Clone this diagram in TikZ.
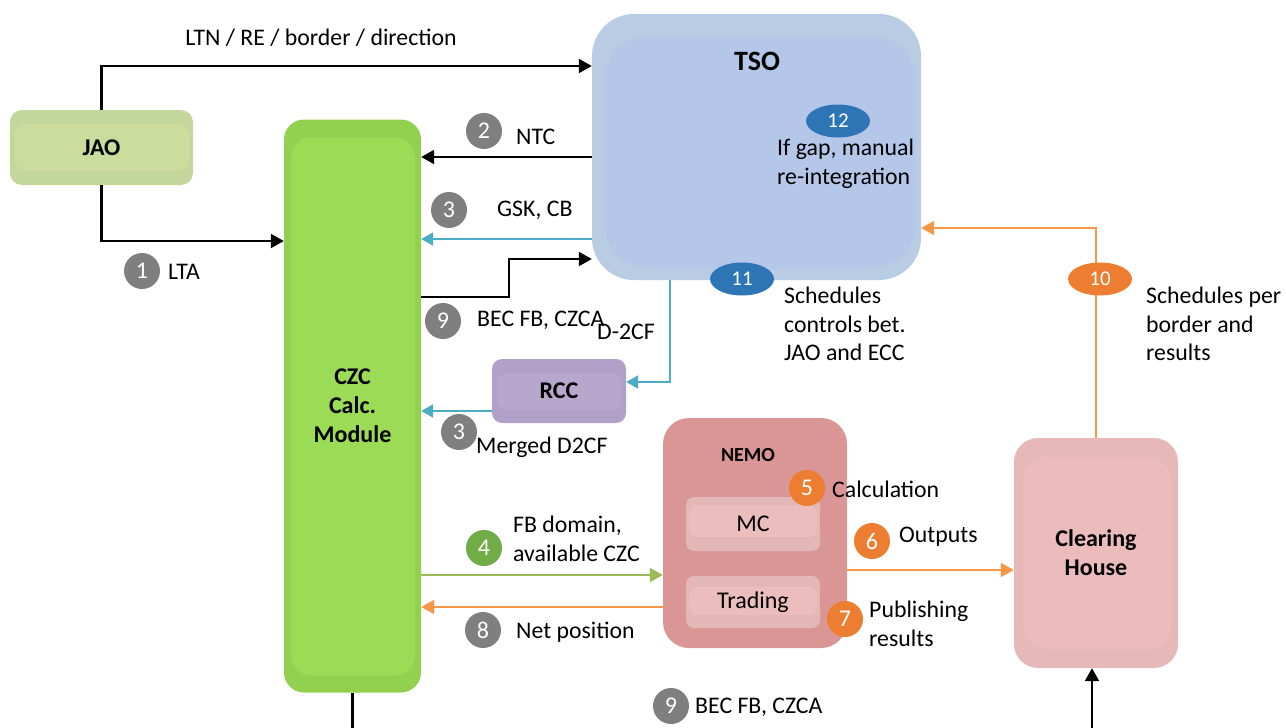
\documentclass[tikz,border=0pt]{standalone}
\usepackage{fontspec}
\setmainfont{Carlito}
\usetikzlibrary{arrows.meta,shapes.geometric,calc}
\definecolor{jaoO}{HTML}{C3D69B}
\definecolor{jaoI}{HTML}{CBDD9C}
\definecolor{czcO}{HTML}{92D050}
\definecolor{czcI}{HTML}{9BDB55}
\definecolor{tsoO}{HTML}{B8CCE4}
\definecolor{tsoI}{HTML}{B4C7E9}
\definecolor{rccO}{HTML}{B1A0C7}
\definecolor{rccI}{HTML}{B8A7CD}
\definecolor{nemoC}{HTML}{D99694}
\definecolor{subO}{HTML}{E4B7B7}
\definecolor{subI}{HTML}{EBBDBD}
\definecolor{chO}{HTML}{E6B8B7}
\definecolor{chI}{HTML}{ECBCBC}
\definecolor{cyanL}{HTML}{4BACC6}
\definecolor{greenL}{HTML}{9BBB59}
\definecolor{orangeL}{HTML}{F79646}
\definecolor{grayB}{HTML}{7F7F7F}
\definecolor{orangeB}{HTML}{ED7D31}
\definecolor{greenB}{HTML}{70AD47}
\definecolor{blueB}{HTML}{2E75B6}
\begin{document}
\begin{tikzpicture}[x=1pt,y=-1pt,
  font=\fontsize{23.8}{28.5}\selectfont,
  box/.style={draw=none, inner sep=0pt, align=center, font=\fontsize{24}{29}\selectfont\bfseries},
  inband/.style n args={5}{path picture={\fill[#1] ($(path picture bounding box.north west)+(#2,#3)$) rectangle ($(path picture bounding box.south east)+(-#4,-#5)$);}},
  badge/.style={circle, fill=#1, text=white, minimum size=36pt, inner sep=0pt, font=\fontsize{24}{26}\selectfont},
  ebadge/.style={ellipse, fill=#1, text=white, minimum width=64pt, minimum height=33pt, inner sep=0pt, font=\fontsize{21}{24}\selectfont},
  lbl/.style={anchor=west, inner sep=0pt, align=left},
  blk/.style={draw=black, line width=2.2pt, -{Triangle[length=13pt,width=14pt]}},
  cyn/.style={draw=cyanL, line width=2pt, -{Triangle[length=12pt,width=13pt]}},
  grn/.style={draw=greenL, line width=2pt, -{Triangle[length=13pt,width=14pt]}},
  org/.style={draw=orangeL, line width=2pt, -{Triangle[length=13pt,width=14pt]}},
  blkline/.style={draw=black, line width=2.2pt}
]
\useasboundingbox (0,0) rectangle (1286,728);

% boxes
\node[box, fill=jaoO, rounded corners=12pt, minimum width=183pt, minimum height=75pt,
      inband={jaoI}{4}{14}{3}{14}] (jao) at (101.5,147.5) {JAO};
\node[box, fill=czcO, rounded corners=20pt, minimum width=137pt, minimum height=573pt,
      inband={czcI}{7}{18}{6}{17}] (czc) at (352.5,406) {CZC\\Calc.\\Module};
\node[box, fill=tsoO, rounded corners=42pt, minimum width=329pt, minimum height=266pt,
      inband={tsoI}{13}{23}{6}{12}] (tso) at (756.5,147) {};
\node[box, anchor=center, font=\fontsize{28}{30}\selectfont\bfseries] (tsot) at (757,61) {TSO};
\node[box, fill=rccO, rounded corners=10pt, minimum width=134pt, minimum height=64pt,
      inband={rccI}{5}{14}{5}{13}] (rcc) at (559,391) {RCC};
\node[box, fill=nemoC, rounded corners=26pt, minimum width=184pt, minimum height=230pt] (nemo) at (755,533) {};
\node[box, font=\fontsize{20}{24}\selectfont\bfseries] (nemot) at (748,455) {NEMO};
\node[box, fill=subO, rounded corners=8pt, minimum width=134pt, minimum height=54pt,
      inband={subI}{3}{8}{3}{14}, font=\fontsize{24}{26}\selectfont] (mc) at (753,524) {MC};
\node[box, fill=subO, rounded corners=8pt, minimum width=134pt, minimum height=52pt,
      inband={subI}{3}{11}{3}{13}, font=\fontsize{24}{26}\selectfont] (trd) at (753,602) {Trading};
\node[box, fill=chO, rounded corners=24pt, minimum width=164pt, minimum height=230pt,
      inband={chI}{9}{19}{6}{19}] (ch) at (1096,553) {Clearing\\House};

% free ends
\coordinate (czcdown) at (352.5,730);
\coordinate (chin) at (1092,730);

% connectors
\draw[blk] (jao.north) |- ([yshift=81pt]tso.west);
\draw[blk] (jao.south) |- ([yshift=165pt]czc.west);
\draw[blk] ([yshift=-10pt]tso.west) coordinate (n2) -- (czc.east |- n2);
\draw[cyn] ([yshift=-92pt]tso.west) coordinate (n3) -- (czc.east |- n3);
\draw[blk] ([yshift=109pt]czc.east) coordinate (n9) -- (509,297) -- (509,259) -- ([yshift=-112pt]tso.west);
\draw[cyn] ([xshift=-86.5pt]tso.south) |- ([yshift=9pt]rcc.east);
\draw[cyn] ([yshift=-20pt]rcc.west) coordinate (m3) -- (czc.east |- m3);
\draw[grn] ([yshift=-42pt]nemo.west) coordinate (n4) (czc.east |- n4) -- (n4);
\draw[org] ([yshift=-74pt]nemo.west) coordinate (n8) -- (czc.east |- n8);
\draw[org] ([yshift=-37pt]nemo.east) coordinate (o6) -- (ch.west |- o6);
\draw[org] (ch.north) |- ([yshift=-81pt]tso.east);
\draw[blkline] (czc.south) -- (czcdown);
\draw[blk] (chin) -- (chin |- ch.south);

% badges
\node[badge=grayB] (b1) at (142,271) {1};
\node[badge=grayB] (b2) at (484,131) {2};
\node[badge=grayB] (b3) at (449,210) {3};
\node[badge=grayB] (b9) at (443,321) {9};
\node[badge=grayB] (b3b) at (459,432) {3};
\node[badge=greenB] (b4) at (484,548) {4};
\node[badge=grayB] (b8) at (483,630) {8};
\node[badge=orangeB] (b5) at (807,488) {5};
\node[badge=orangeB] (b6) at (872,541) {6};
\node[badge=orangeB] (b7) at (845,619) {7};
\node[badge=grayB] (b9b) at (671,706) {9};
\node[ebadge=orangeB] (b10) at (1100,279) {10};
\node[ebadge=blueB] (b11) at (742,279) {11};
\node[ebadge=blueB] (b12) at (838,121) {12};

% labels
\node[inner sep=0pt] (l0) at (321,38) {LTN / RE / border / direction};
\node[lbl] (l1) at (168,272) {LTA};
\node[lbl] (l2) at (516,137) {NTC};
\node[lbl] (l3) at (497,210) {GSK, CB};
\node[lbl] (l9) at (477,320) {BEC FB, CZCA};
\node[lbl] (ld) at (597,332) {D-2CF};
\node[lbl] (lm) at (476,447) {Merged D2CF};
\node[lbl] (l4) at (513,539) {FB domain,\\available CZC};
\node[lbl] (l8) at (516,632) {Net position};
\node[lbl] (l5) at (832,489) {Calculation};
\node[lbl] (l6) at (899,537) {Outputs};
\node[lbl] (l7) at (869,624) {Publishing\\results};
\node[lbl] (l10) at (1146,324) {Schedules per\\border and\\results};
\node[lbl] (l11) at (784,324) {Schedules\\controls bet.\\JAO and ECC};
\node[lbl] (l12) at (777,164) {If gap, manual\\re-integration};
\node[lbl] (l9b) at (695,707) {BEC FB, CZCA};
\end{tikzpicture}
\end{document}
